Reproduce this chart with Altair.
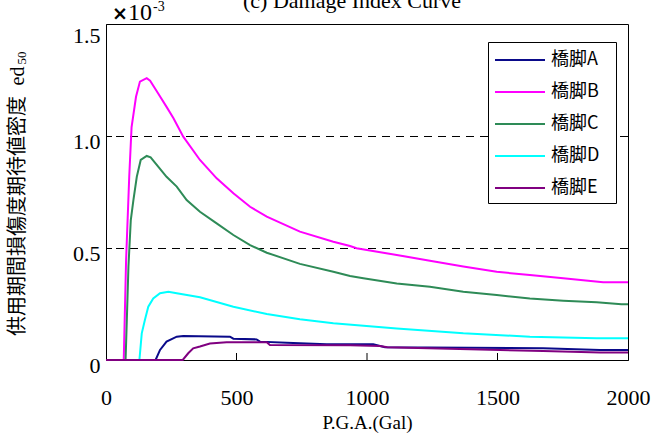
import altair as alt
import pandas as pd

# P.G.A. (Gal) and expected damage density (x 1e-3) for each pier
pga_a = [0, 190, 207, 232, 271, 296, 475, 488, 577, 590, 692, 845, 1024, 1069, 1675, 1893, 2000]
val_a = [0, 0, 0.045, 0.082, 0.104, 0.107, 0.104, 0.095, 0.092, 0.082, 0.077, 0.070, 0.070, 0.057, 0.052, 0.045, 0.045]

pga_b = [0, 68, 77, 89, 98, 115, 130, 156, 169, 200, 232, 258, 296, 360, 424, 488, 552, 616,
         743, 871, 935, 960, 1114, 1241, 1369, 1497, 1624, 1752, 1905, 2000]
val_b = [0, 0, 0.446, 0.818, 1.04, 1.175, 1.243, 1.258, 1.247, 1.19, 1.13, 1.08, 0.997, 0.893, 0.811,
         0.744, 0.684, 0.640, 0.573, 0.528, 0.509, 0.499, 0.469, 0.443, 0.417, 0.394, 0.379, 0.365,
         0.347, 0.347]

pga_c = [0, 75, 79, 86, 95, 105, 118, 133, 156, 171, 200, 232, 271, 309, 360, 424, 488, 552, 616,
         743, 871, 935, 986, 1114, 1241, 1369, 1497, 1624, 1752, 1880, 1975, 2000]
val_c = [0, 0, 0.149, 0.417, 0.625, 0.714, 0.818, 0.893, 0.911, 0.905, 0.863, 0.818, 0.774, 0.714,
         0.662, 0.610, 0.558, 0.513, 0.479, 0.429, 0.394, 0.375, 0.365, 0.342, 0.327, 0.305, 0.290,
         0.275, 0.265, 0.258, 0.249, 0.249]

pga_d = [0, 128, 137, 149, 162, 181, 207, 239, 271, 360, 488, 616, 743, 871, 1114, 1369, 1624, 1880, 2000]
val_d = [0, 0, 0.119, 0.179, 0.238, 0.275, 0.298, 0.305, 0.298, 0.280, 0.238, 0.205, 0.182, 0.164,
         0.141, 0.119, 0.104, 0.097, 0.097]

pga_e = [0, 294, 315, 334, 360, 398, 462, 616, 628, 935, 1050, 1078, 1394, 1675, 1893, 2000]
val_e = [0, 0, 0.030, 0.052, 0.060, 0.074, 0.079, 0.079, 0.067, 0.066, 0.062, 0.057, 0.048, 0.040, 0.033, 0.033]

piers = ["橋脚A", "橋脚B", "橋脚C", "橋脚D", "橋脚E"]
colors = ["#0a0a8a", "#ff00ff", "#2e8b57", "#00ffff", "#800080"]

x_ticks = [0, 500, 1000, 1500, 2000]
y_ticks = [0, 0.5, 1.0, 1.5]
grid_levels = [0.5, 1.0]
inner_x_ticks = [500, 1000, 1500]
inner_y_ticks = [0.5, 1.0]

rows = []
for name, xs, ys in zip(piers, [pga_a, pga_b, pga_c, pga_d, pga_e],
                        [val_a, val_b, val_c, val_d, val_e]):
    for i, (xv, yv) in enumerate(zip(xs, ys)):
        rows.append({"pier": name, "order": i, "pga": xv, "ed": yv})
df = pd.DataFrame(rows)
key_df = pd.DataFrame({"pier": piers})

W, H = 522, 336
serif = "Liberation Serif"
cjk = "Noto Sans CJK JP"

x_scale = alt.Scale(domain=[0, 2000], nice=False)
y_scale = alt.Scale(domain=[0, 1.5], nice=False)
color_scale = alt.Scale(domain=piers, range=colors)
# legend rows are laid out on a point scale inside the key box
key_rows = alt.Scale(type="point", domain=piers, range=[36, 164], padding=0)

x_axis = alt.Axis(values=x_ticks, format="d", title="P.G.A.(Gal)", grid=False, ticks=False,
                  tickSize=0, domainColor="black", labelFont=serif, labelFontSize=22,
                  labelColor="black", labelBaseline="middle", labelPadding=37,
                  labelFlush=False,
                  titleFont=serif, titleFontSize=19, titleFontWeight="normal",
                  titleColor="black", titleBaseline="alphabetic", titleY=68)

one = pd.DataFrame({"k": [0]})

grid = alt.Chart(pd.DataFrame({"g": grid_levels})).mark_rule(
    color="black", strokeWidth=1, strokeDash=[8, 6], yOffset=0.5
).encode(y=alt.Y("g:Q", scale=y_scale, axis=None))

lines = alt.Chart(df).mark_line(strokeWidth=2).encode(
    x=alt.X("pga:Q", scale=x_scale, axis=x_axis),
    y=alt.Y("ed:Q", scale=y_scale,
            axis=alt.Axis(orient="left", values=y_ticks, title=None, grid=False, ticks=False,
                          tickSize=0, domainColor="black", labelFont=serif, labelFontSize=22,
                          labelColor="black", labelPadding=6, labelFlush=False,
                          labelExpr="datum.value == 0 ? '0' : format(datum.value, '.1f')",
                          labelOffset={"condition": {"test": "datum.value >= 1.5", "value": 11},
                                       "value": 5})),
    color=alt.Color("pier:N", scale=color_scale, legend=None),
    order="order:Q",
)

bottom_ticks = alt.Chart(pd.DataFrame({"t": inner_x_ticks})).mark_rule(
    color="black", strokeWidth=1
).encode(x=alt.X("t:Q", scale=x_scale, axis=x_axis), y=alt.value(H), y2=alt.value(H - 7))

left_ticks = alt.Chart(pd.DataFrame({"t": inner_y_ticks})).mark_rule(
    color="black", strokeWidth=1, yOffset=0.5
).encode(y=alt.Y("t:Q", scale=y_scale, axis=None), x=alt.value(0), x2=alt.value(6))

# key box with a sample line and a label per pier
key_box = alt.Chart(one).mark_rect(fill="white", stroke="black", strokeWidth=1).encode(
    x=alt.value(382.5), x2=alt.value(510.5), y=alt.value(18.5), y2=alt.value(179.5))
key_lines = alt.Chart(key_df).mark_rule(strokeWidth=2).encode(
    y=alt.Y("pier:N", scale=key_rows, axis=None),
    x=alt.value(389), x2=alt.value(439),
    color=alt.Color("pier:N", scale=color_scale, legend=None))
key_text = alt.Chart(key_df).mark_text(
    font=cjk, fontSize=18, color="black", align="left", baseline="middle"
).encode(y=alt.Y("pier:N", scale=key_rows, axis=None), x=alt.value(445), text="pier:N")


def label(text, x, y, font, size, **kw):
    return alt.Chart(one).mark_text(text=text, font=font, fontSize=size, color="black", **kw).encode(
        x=alt.value(x), y=alt.value(y))


title = label("(c) Damage Index Curve", 246, -16, serif, 22, align="center", baseline="alphabetic")
times_sign = label("×", 6, -4, "DejaVu Sans", 19, align="left", baseline="alphabetic", fontWeight="bold")
ten = label("10", 22, -4, serif, 24, align="left", baseline="alphabetic")
exponent = label("-3", 47, -13, serif, 14, align="left", baseline="alphabetic")

ytitle_cjk = label("供用期間損傷度期待値密度", -88, 192, cjk, 20, align="center", baseline="middle", angle=270)
ytitle_ed = label("ed", -88, 52, serif, 20, align="center", baseline="middle", angle=270)
ytitle_sub = label("50", -84, 34, serif, 13, align="center", baseline="middle", angle=270)

chart = alt.layer(
    grid, lines, bottom_ticks, left_ticks, key_box, key_lines, key_text,
    title, times_sign, ten, exponent, ytitle_cjk, ytitle_ed, ytitle_sub
).resolve_scale(
    y="independent"
).resolve_axis(
    y="independent"
).properties(
    width=W, height=H,
    autosize=alt.AutoSizeParams(type="none"),
    padding={"left": 106, "top": 24, "right": 27, "bottom": 82},
    background="white",
).configure_view(stroke="black", strokeWidth=1)

chart.save("out.html", embed_options={"renderer": "svg", "actions": False})
